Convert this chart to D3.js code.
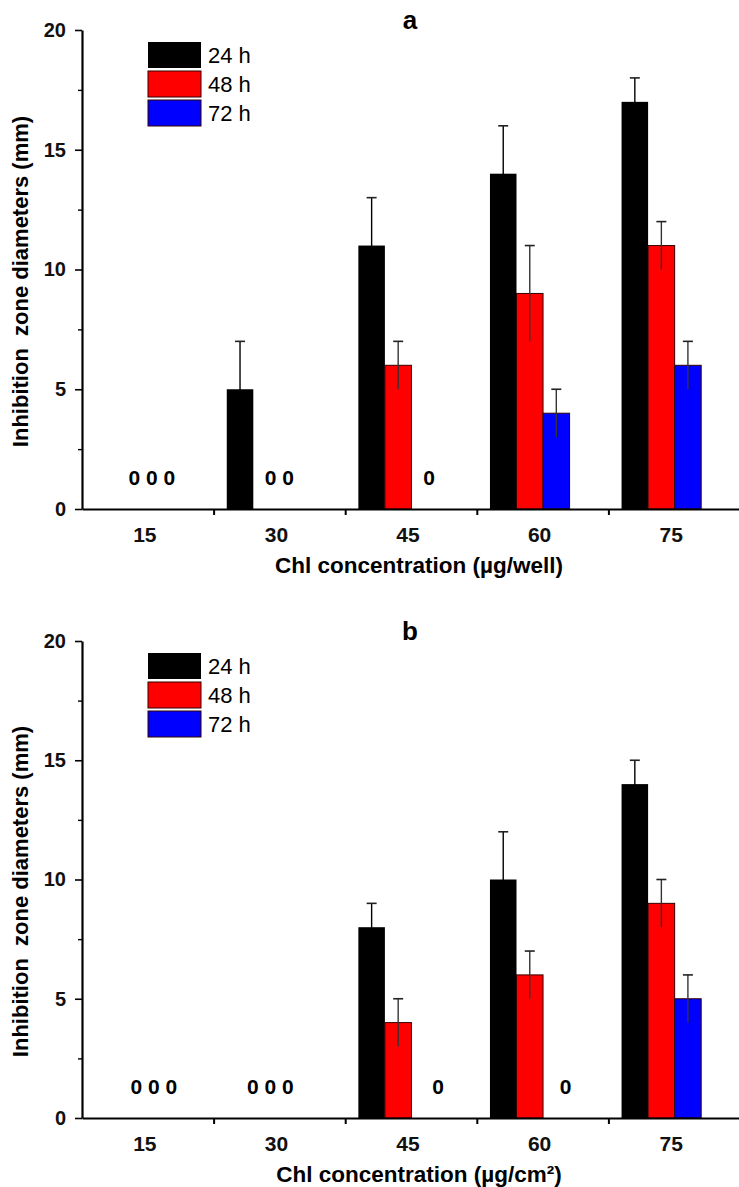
<!DOCTYPE html>
<html><head><meta charset="utf-8">
<script src="https://cdn.jsdelivr.net/npm/d3@7"></script>
<style>body{margin:0;background:#fff}svg{display:block}text{font-family:"Liberation Sans",Arial,sans-serif}</style>
</head><body>
<svg id="c" width="739" height="1187"></svg>
<script>
const categories = ["15","30","45","60","75"];
const seriesNames = ["24 h","48 h","72 h"];
const seriesColors = ["#000000","#ff0000","#0000ff"];
const yTicks = [0,5,10,15,20];
const yMinorTicks = [2.5,7.5,12.5,17.5];

// Panel a
const a24 = [0,5,11,14,17], a24err = [0,2,2,2,1];
const a48 = [0,0,6,9,11],  a48err = [0,0,1,2,1];
const a72 = [0,0,0,4,6],   a72err = [0,0,0,1,1];
// Panel b
const b24 = [0,0,8,10,14], b24err = [0,0,1,2,1];
const b48 = [0,0,4,6,9],   b48err = [0,0,1,1,1];
const b72 = [0,0,0,0,5],   b72err = [0,0,0,0,1];

const titleA = "a", titleB = "b";
const xTitleA = "Chl concentration (µg/well)";
const xTitleB = "Chl concentration (µg/cm²)";
const yTitle = "Inhibition\u00a0 zone diameters (mm)";

// layout tweaks for "0" annotations (fraction of band width from band centre)
const zeroShiftA = [0.03, 0, 0.137, 0, 0];
const zeroShiftB = [0.046, -0.068, 0.205, 0.175, 0];

const svg = d3.select("#c");

function panel(opt){
  const g = svg.append("g");
  const y = d3.scaleLinear().domain([0,20]).range([opt.y0, opt.y20]);
  const x = d3.scaleBand().domain(categories).range([82,740]).padding(0);
  const bw = x.bandwidth();
  const xs = d3.scaleBand().domain(seriesNames).range([-0.4*bw, 0.205*bw]);
  const vals = [opt.s24, opt.s48, opt.s72];
  const errs = [opt.e24, opt.e48, opt.e72];
  const rows = [];
  seriesNames.forEach((s,si)=>categories.forEach((c,ci)=>rows.push({s,si,c,ci,v:vals[si][ci],e:errs[si][ci]})));
  const bars = rows.filter(d=>d.v>0);
  g.selectAll("rect.bar").data(bars).join("rect").attr("class","bar")
    .attr("x",d=>x(d.c)+bw/2+xs(d.s)).attr("width",xs.bandwidth())
    .attr("y",d=>y(d.v)).attr("height",d=>y(0)-y(d.v))
    .attr("fill",d=>seriesColors[d.si])
    .attr("stroke",d=>d.si===0?"none":"#300").attr("stroke-width",1);
  // error bars
  const eb = g.selectAll("g.eb").data(bars.filter(d=>d.e>0)).join("g").attr("class","eb");
  const cx = d=>x(d.c)+bw/2+xs(d.s)+xs.bandwidth()/2;
  eb.append("line").attr("x1",cx).attr("x2",cx).attr("y1",d=>y(d.v-d.e)).attr("y2",d=>y(d.v+d.e))
    .attr("stroke",d=>d.si===0?"#000":"#333").attr("stroke-width",1.4);
  eb.append("line").attr("x1",d=>cx(d)-5).attr("x2",d=>cx(d)+5).attr("y1",d=>y(d.v+d.e)).attr("y2",d=>y(d.v+d.e))
    .attr("stroke","#222").attr("stroke-width",1.6);
  // zero labels
  const zl = categories.map((c,ci)=>{
    const n = vals.filter(v=>v[ci]===0).length;
    return {c,ci,t:Array(n).fill("0").join(" ")};
  }).filter(d=>d.t.length>0);
  g.selectAll("text.zero").data(zl).join("text").attr("class","zero")
    .attr("x",d=>x(d.c)+bw/2+opt.zshift[d.ci]*bw).attr("y",y(0)-24)
    .attr("text-anchor","middle").attr("font-size",21).attr("font-weight","bold").text(d=>d.t);
  // y axis
  const ya = g.append("g").attr("transform","translate(82,0)")
    .call(d3.axisLeft(y).tickValues(yTicks).tickSize(7).tickPadding(9).tickSizeOuter(0));
  ya.select(".domain").attr("stroke-width",2.2);
  ya.selectAll(".tick line").attr("stroke-width",1.6);
  ya.selectAll("text").attr("font-size",20).attr("font-weight","bold").attr("font-family","Liberation Sans, Arial").attr("fill","#111");
  const ym = g.append("g").attr("transform","translate(82,0)")
    .call(d3.axisLeft(y).tickValues(yMinorTicks).tickSize(4).tickFormat("").tickSizeOuter(0));
  ym.select(".domain").remove();
  ym.selectAll(".tick line").attr("stroke-width",1.4);
  // x axis
  const xa = g.append("g").attr("transform",`translate(0,${opt.y0})`)
    .call(d3.axisBottom(x).tickSize(0).tickPadding(18).tickSizeOuter(0));
  xa.select(".domain").attr("stroke-width",2.2);
  xa.selectAll("text").attr("font-size",21).attr("font-weight","bold").attr("font-family","Liberation Sans, Arial").attr("fill","#111").attr("dx",-3);
  const xb = d3.scaleLinear().domain([0,categories.length]).range(x.range());
  const xt = g.append("g").attr("transform",`translate(0,${opt.y0})`)
    .call(d3.axisBottom(xb).tickValues(d3.range(1,categories.length)).tickSize(6).tickFormat("").tickSizeOuter(0));
  xt.select(".domain").remove();
  xt.selectAll(".tick line").attr("stroke-width",2);
  // titles
  g.append("text").attr("x",410).attr("y",opt.y20-1).attr("text-anchor","middle")
    .attr("font-size",26).attr("font-weight","bold").text(opt.title);
  g.append("text").attr("x",419).attr("y",opt.y0+64).attr("text-anchor","middle")
    .attr("font-size",22.5).attr("font-weight","bold").text(opt.xTitle);
  g.append("text").attr("transform",`translate(28,${(opt.y0+opt.y20)/2+12}) rotate(-90)`).attr("text-anchor","middle")
    .attr("font-size",22).attr("font-weight","bold").text(yTitle);
  // legend
  const lg = g.append("g").attr("transform",`translate(148,${opt.y20+12})`);
  const li = lg.selectAll("g").data(seriesNames).join("g").attr("transform",(d,i)=>`translate(0,${i*29})`);
  li.append("rect").attr("width",53).attr("height",26).attr("fill",(d,i)=>seriesColors[i])
    .attr("stroke",(d,i)=>i===0?"none":"#300").attr("stroke-width",1);
  li.append("text").attr("x",60).attr("y",21).attr("font-size",22).text(d=>d);
}

panel({y0:509,y20:30,s24:a24,s48:a48,s72:a72,e24:a24err,e48:a48err,e72:a72err,zshift:zeroShiftA,title:titleA,xTitle:xTitleA});
panel({y0:1118,y20:641,s24:b24,s48:b48,s72:b72,e24:b24err,e48:b48err,e72:b72err,zshift:zeroShiftB,title:titleB,xTitle:xTitleB});
</script>
</body></html>
